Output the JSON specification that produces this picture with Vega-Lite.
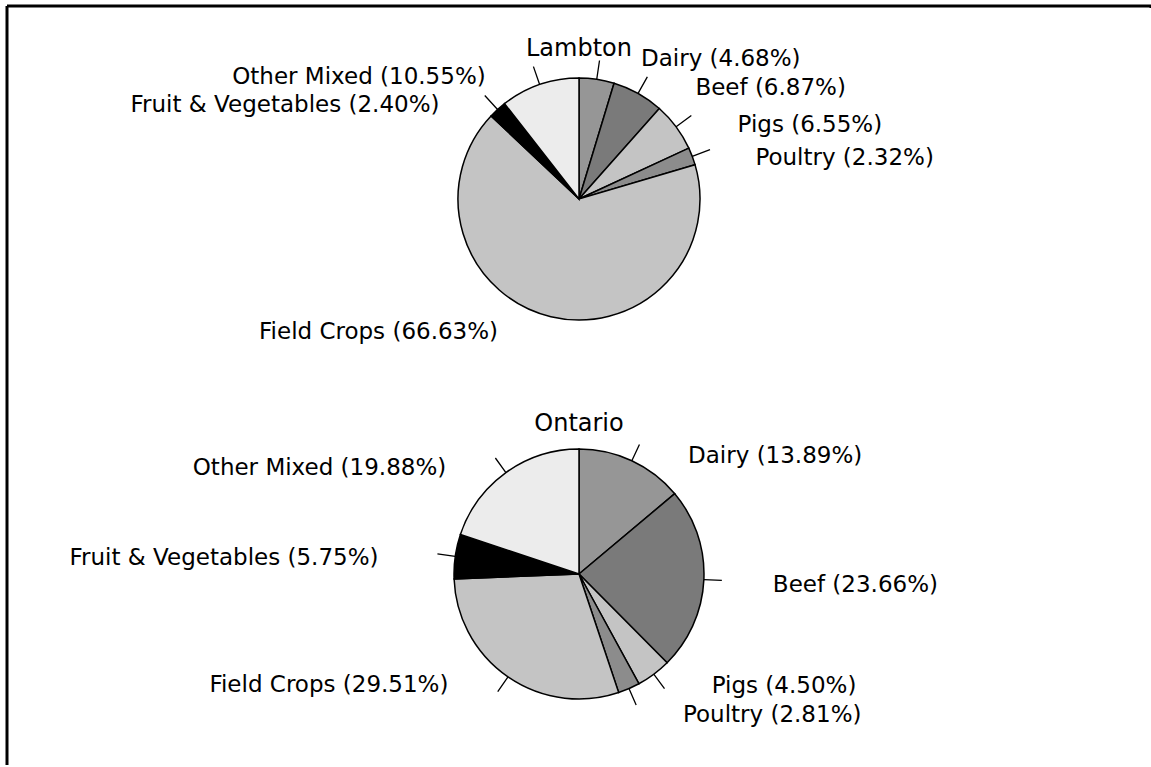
{
  "$schema": "https://vega.github.io/schema/vega-lite/v6.json",
  "width": 1151,
  "height": 767,
  "autosize": {"type": "fit", "contains": "padding"},
  "padding": {"left": 5, "top": 4, "right": 0, "bottom": 0},
  "background": "white",
  "config": {"view": {"stroke": "black", "strokeWidth": 3, "strokeDash": [1146, 3000]}, "font": "DejaVu Sans"},
  "datasets": {
    "farms": [
      {"region": "Lambton", "k": 1, "category": "Dairy", "pct": 4.68, "label": "Dairy (4.68%)"},
      {"region": "Lambton", "k": 2, "category": "Beef", "pct": 6.87, "label": "Beef (6.87%)"},
      {"region": "Lambton", "k": 3, "category": "Pigs", "pct": 6.55, "label": "Pigs (6.55%)"},
      {"region": "Lambton", "k": 4, "category": "Poultry", "pct": 2.32, "label": "Poultry (2.32%)"},
      {"region": "Lambton", "k": 5, "category": "Field Crops", "pct": 66.63, "label": "Field Crops (66.63%)"},
      {"region": "Lambton", "k": 6, "category": "Fruit & Vegetables", "pct": 2.40, "label": "Fruit & Vegetables (2.40%)"},
      {"region": "Lambton", "k": 7, "category": "Other Mixed", "pct": 10.55, "label": "Other Mixed (10.55%)"},
      {"region": "Ontario", "k": 1, "category": "Dairy", "pct": 13.89, "label": "Dairy (13.89%)"},
      {"region": "Ontario", "k": 2, "category": "Beef", "pct": 23.66, "label": "Beef (23.66%)"},
      {"region": "Ontario", "k": 3, "category": "Pigs", "pct": 4.50, "label": "Pigs (4.50%)"},
      {"region": "Ontario", "k": 4, "category": "Poultry", "pct": 2.81, "label": "Poultry (2.81%)"},
      {"region": "Ontario", "k": 5, "category": "Field Crops", "pct": 29.51, "label": "Field Crops (29.51%)"},
      {"region": "Ontario", "k": 6, "category": "Fruit & Vegetables", "pct": 5.75, "label": "Fruit & Vegetables (5.75%)"},
      {"region": "Ontario", "k": 7, "category": "Other Mixed", "pct": 19.88, "label": "Other Mixed (19.88%)"}
    ],
    "titles": [
      {"region": "Lambton"},
      {"region": "Ontario"}
    ]
  },
  "layer": [
    {
      "data": {"values": [{"edge": 0}]},
      "mark": {"type": "rule", "color": "black", "strokeWidth": 3},
      "encoding": {
        "x": {"field": "edge", "type": "quantitative", "scale": {"domain": [0, 1], "nice": false, "zero": false}, "axis": null}
      }
    },
    {
      "data": {"name": "farms"},
      "transform": [{"filter": "datum.region === 'Lambton'"}],
      "mark": {"type": "arc", "outerRadius": 121, "stroke": "black", "strokeWidth": 1.5},
      "encoding": {
        "theta": {"field": "pct", "type": "quantitative", "stack": true},
        "order": {"field": "k", "type": "quantitative"},
        "y": {"field": "region", "type": "nominal", "scale": {"type": "point", "domain": ["Lambton", "Ontario"], "range": [193, 568], "padding": 0}, "axis": null},
        "color": {"field": "category", "type": "nominal", "legend": null,
          "scale": {"domain": ["Dairy", "Beef", "Pigs", "Poultry", "Field Crops", "Fruit & Vegetables", "Other Mixed"],
                    "range": ["#969696", "#7a7a7a", "#c4c4c4", "#8c8c8c", "#c4c4c4", "#000000", "#ececec"]}}
      }
    },
    {
      "data": {"name": "farms"},
      "transform": [{"filter": "datum.region === 'Ontario'"}],
      "mark": {"type": "arc", "outerRadius": 125, "stroke": "black", "strokeWidth": 1.5},
      "encoding": {
        "theta": {"field": "pct", "type": "quantitative", "stack": true},
        "order": {"field": "k", "type": "quantitative"},
        "y": {"field": "region", "type": "nominal"},
        "color": {"field": "category", "type": "nominal", "legend": null}
      }
    },
    {
      "data": {"name": "farms"},
      "transform": [{"filter": "datum.region === 'Lambton'"}],
      "mark": {"type": "arc", "radius": 140, "radius2": 121, "padAngle": 3, "fill": null, "stroke": "black", "strokeWidth": 1.3},
      "encoding": {
        "theta": {"field": "pct", "type": "quantitative", "stack": true},
        "order": {"field": "k", "type": "quantitative"},
        "y": {"field": "region", "type": "nominal"},
        "strokeOpacity": {"condition": {"test": "datum.pct > 50", "value": 0}, "value": 1}
      }
    },
    {
      "data": {"name": "farms"},
      "transform": [{"filter": "datum.region === 'Ontario'"}],
      "mark": {"type": "arc", "radius": 143, "radius2": 125, "padAngle": 3, "fill": null, "stroke": "black", "strokeWidth": 1.3},
      "encoding": {
        "theta": {"field": "pct", "type": "quantitative", "stack": true},
        "order": {"field": "k", "type": "quantitative"},
        "y": {"field": "region", "type": "nominal"}
      }
    },
    {
      "data": {"name": "farms"},
      "transform": [{"filter": "datum.region === 'Lambton'"}],
      "mark": {"type": "text", "radius": 150, "dx": 40, "dy": 8, "align": "left", "baseline": "middle", "fontSize": 23, "font": "DejaVu Sans", "color": "black"},
      "encoding": {
        "theta": {"field": "pct", "type": "quantitative", "stack": true},
        "order": {"field": "k", "type": "quantitative"},
        "y": {"field": "region", "type": "nominal"},
        "text": {"condition": {"test": "datum.k === 1", "field": "label"}, "value": ""}
      }
    },
    {
      "data": {"name": "farms"},
      "transform": [{"filter": "datum.region === 'Lambton'"}],
      "mark": {"type": "text", "radius": 134, "dx": 51, "dy": 6, "align": "left", "baseline": "middle", "fontSize": 23, "font": "DejaVu Sans", "color": "black"},
      "encoding": {
        "theta": {"field": "pct", "type": "quantitative", "stack": true},
        "order": {"field": "k", "type": "quantitative"},
        "y": {"field": "region", "type": "nominal"},
        "text": {"condition": {"test": "datum.k >= 2 && datum.k <= 4", "field": "label"}, "value": ""}
      }
    },
    {
      "data": {"name": "farms"},
      "transform": [{"filter": "datum.region === 'Lambton'"}],
      "mark": {"type": "text", "radius": 133, "dx": -50, "dy": 4, "align": "right", "baseline": "middle", "fontSize": 23, "font": "DejaVu Sans", "color": "black"},
      "encoding": {
        "theta": {"field": "pct", "type": "quantitative", "stack": true},
        "order": {"field": "k", "type": "quantitative"},
        "y": {"field": "region", "type": "nominal"},
        "text": {"condition": {"test": "datum.k >= 5", "field": "label"}, "value": ""}
      }
    },
    {
      "data": {"name": "farms"},
      "transform": [{"filter": "datum.region === 'Ontario'"}],
      "mark": {"type": "text", "radius": 135, "dx": 52, "dy": 4, "align": "left", "baseline": "middle", "fontSize": 23, "font": "DejaVu Sans", "color": "black"},
      "encoding": {
        "theta": {"field": "pct", "type": "quantitative", "stack": true},
        "order": {"field": "k", "type": "quantitative"},
        "y": {"field": "region", "type": "nominal"},
        "text": {"condition": {"test": "datum.k === 1 || datum.k === 3", "field": "label"}, "value": ""}
      }
    },
    {
      "data": {"name": "farms"},
      "transform": [{"filter": "datum.region === 'Ontario'"}],
      "mark": {"type": "text", "radius": 150, "dx": 44, "dy": 4, "align": "left", "baseline": "middle", "fontSize": 23, "font": "DejaVu Sans", "color": "black"},
      "encoding": {
        "theta": {"field": "pct", "type": "quantitative", "stack": true},
        "order": {"field": "k", "type": "quantitative"},
        "y": {"field": "region", "type": "nominal"},
        "text": {"condition": {"test": "datum.k === 2 || datum.k === 4", "field": "label"}, "value": ""}
      }
    },
    {
      "data": {"name": "farms"},
      "transform": [{"filter": "datum.region === 'Ontario'"}],
      "mark": {"type": "text", "radius": 150, "dx": -52, "dy": 5, "align": "right", "baseline": "middle", "fontSize": 23, "font": "DejaVu Sans", "color": "black"},
      "encoding": {
        "theta": {"field": "pct", "type": "quantitative", "stack": true},
        "order": {"field": "k", "type": "quantitative"},
        "y": {"field": "region", "type": "nominal"},
        "text": {"condition": {"test": "datum.k === 6", "field": "label"}, "value": ""}
      }
    },
    {
      "data": {"name": "farms"},
      "transform": [{"filter": "datum.region === 'Ontario'"}],
      "mark": {"type": "text", "radius": 133, "dx": -55, "dy": 1.5, "align": "right", "baseline": "middle", "fontSize": 23, "font": "DejaVu Sans", "color": "black"},
      "encoding": {
        "theta": {"field": "pct", "type": "quantitative", "stack": true},
        "order": {"field": "k", "type": "quantitative"},
        "y": {"field": "region", "type": "nominal"},
        "text": {"condition": {"test": "datum.k === 5 || datum.k === 7", "field": "label"}, "value": ""}
      }
    },
    {
      "data": {"name": "titles"},
      "mark": {"type": "text", "dy": -150, "align": "center", "baseline": "middle", "fontSize": 24, "font": "DejaVu Sans", "color": "black"},
      "encoding": {
        "y": {"field": "region", "type": "nominal"},
        "text": {"field": "region", "type": "nominal"}
      }
    }
  ]
}
